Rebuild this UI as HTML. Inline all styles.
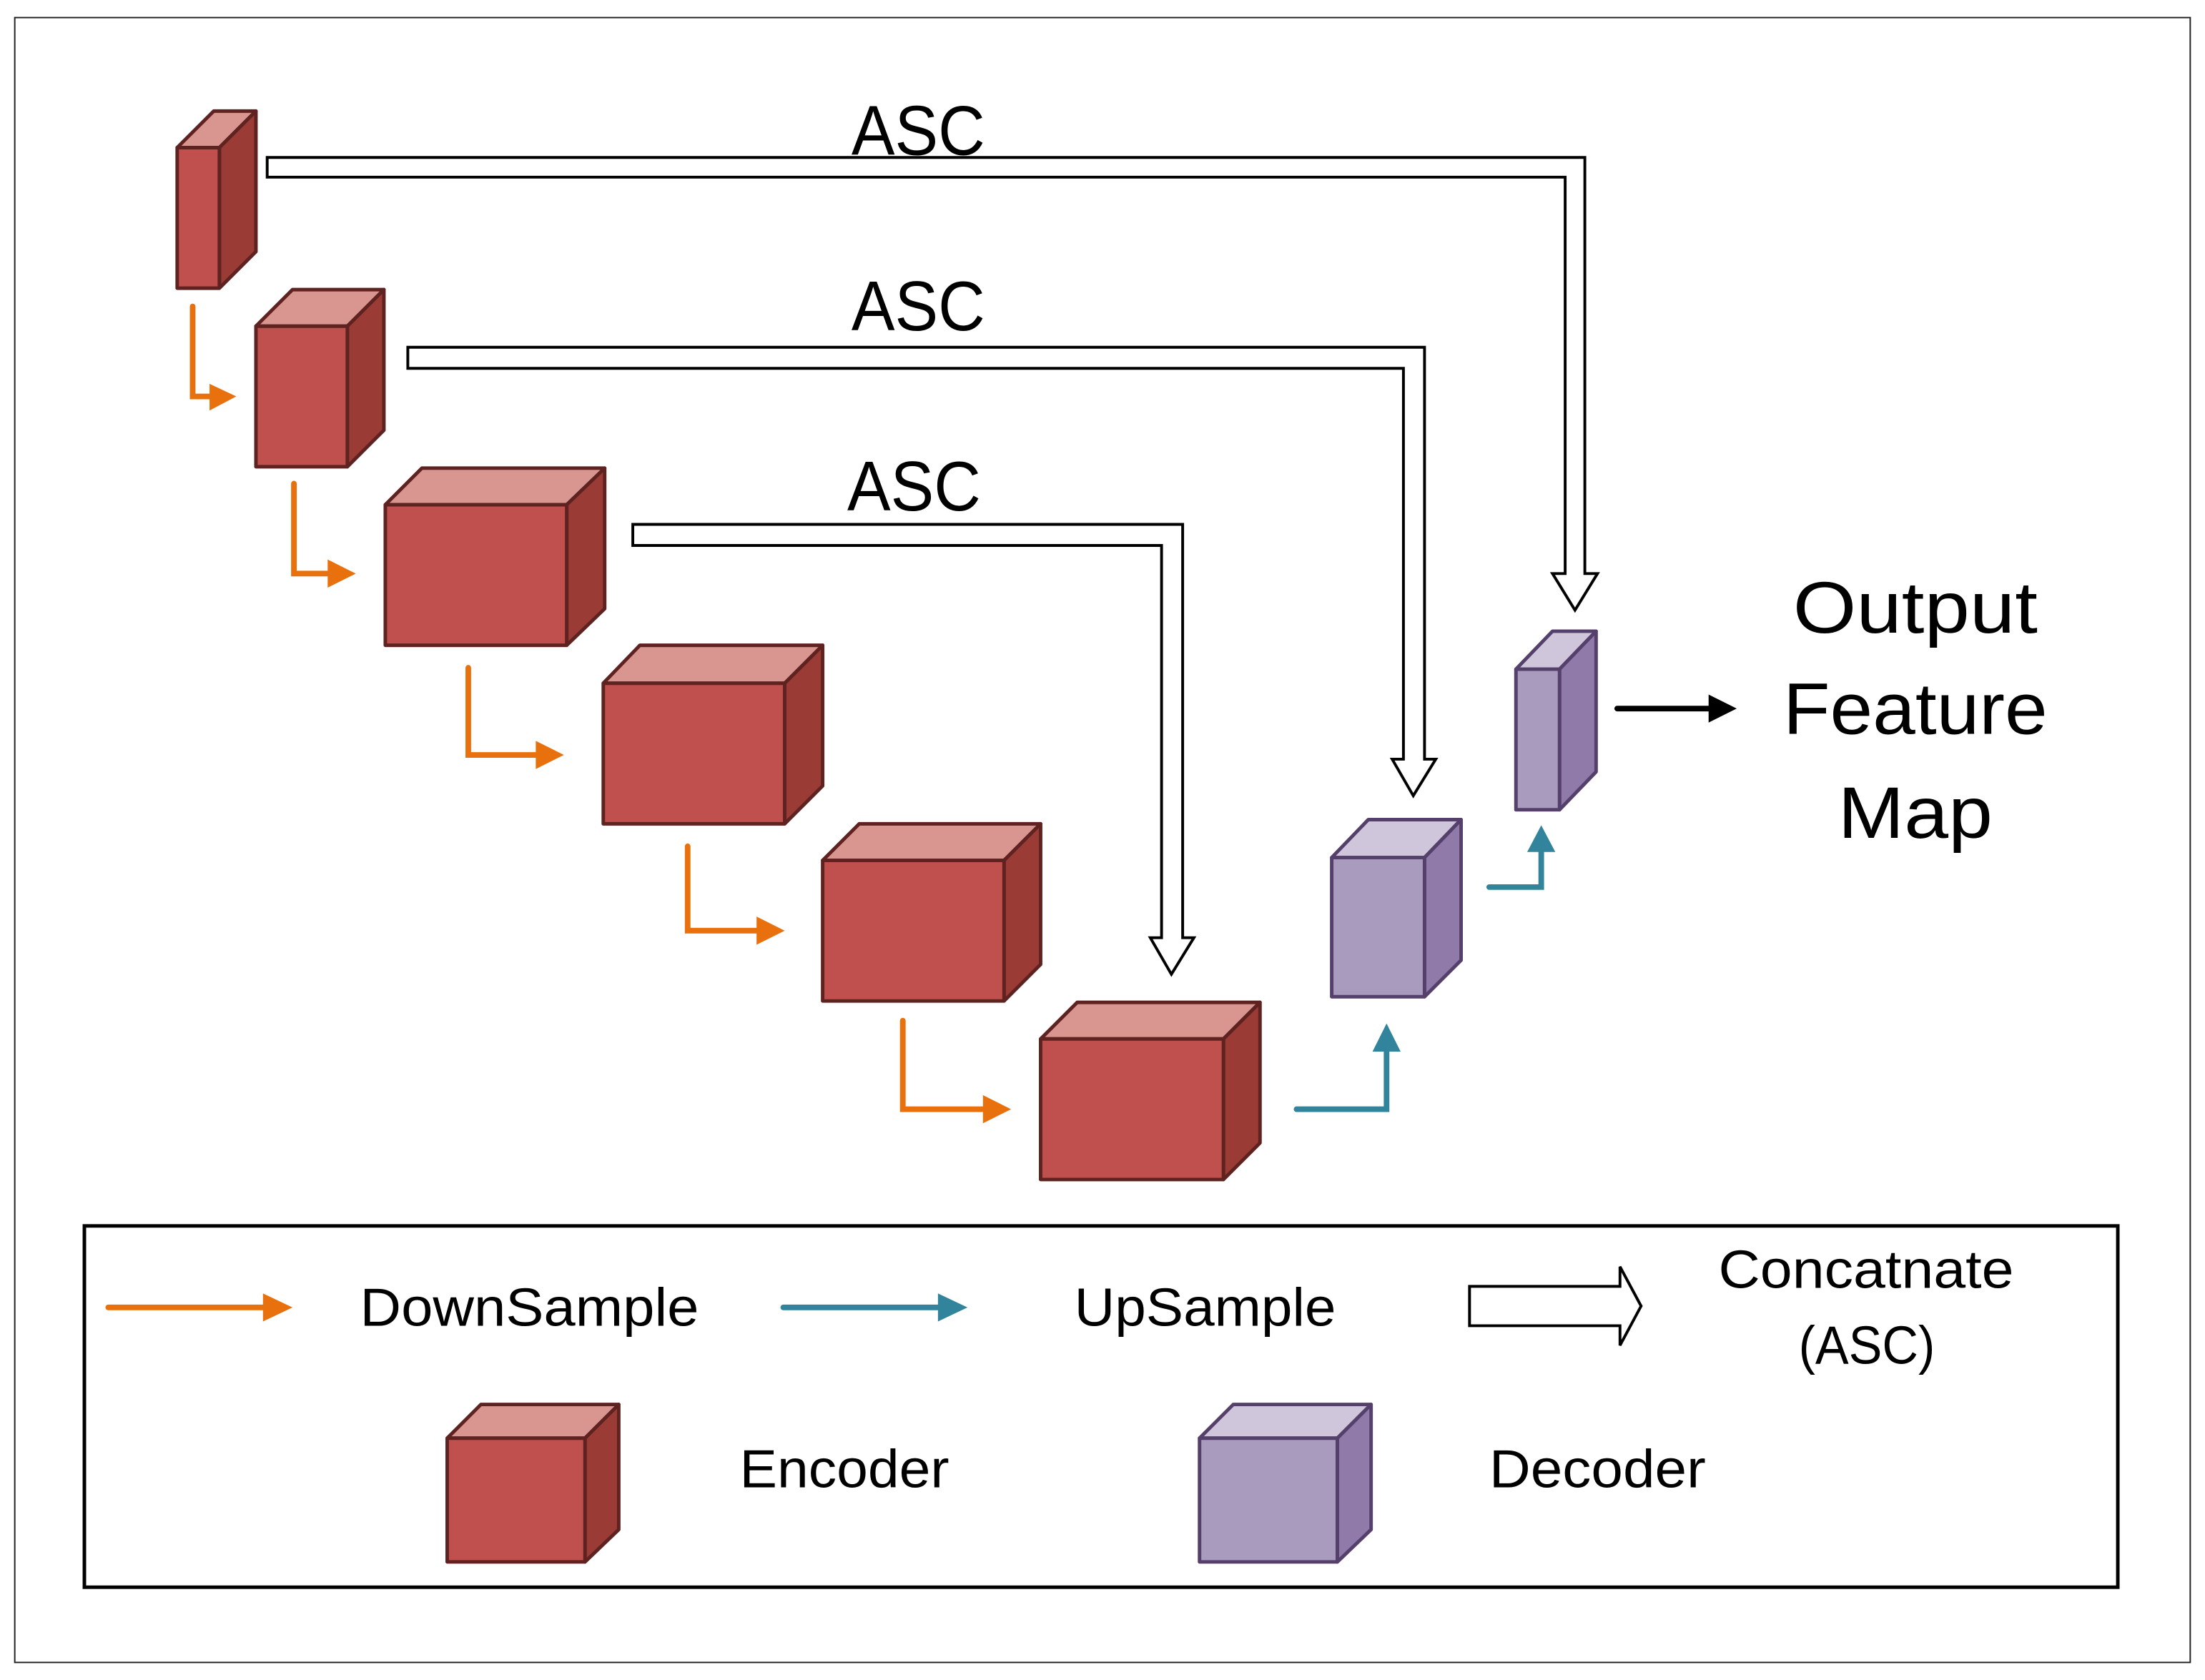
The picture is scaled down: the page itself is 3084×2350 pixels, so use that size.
<!DOCTYPE html>
<html><head><meta charset="utf-8"><style>
html,body{margin:0;padding:0;background:#fff;}
svg{display:block;}
text{font-family:"Liberation Sans",sans-serif;fill:#000;}
</style></head><body>
<svg width="3084" height="2350" viewBox="0 0 1568 1195" preserveAspectRatio="none" xmlns="http://www.w3.org/2000/svg">
<rect x="10.5" y="12.5" width="1547" height="1170" fill="none" stroke="#222" stroke-width="1"/>

<!-- ASC hollow arrows -->
<g fill="#fff" stroke="#000" stroke-width="2" stroke-linejoin="miter">
<path d="M190,112 H1127 V408 H1136 L1120,434 L1104,408 H1113 V126 H190 Z"/>
<path d="M290,247 H1013 V540 H1021 L1005,566 L990,540 H998 V262 H290 Z"/>
<path d="M450,373 H841 V667 H849 L833,693 L818,667 H826 V388 H450 Z"/>
</g>
<g font-size="50" text-anchor="middle">
<text x="653" y="110" textLength="95" lengthAdjust="spacingAndGlyphs">ASC</text>
<text x="653" y="235" textLength="95" lengthAdjust="spacingAndGlyphs">ASC</text>
<text x="650" y="363" textLength="95" lengthAdjust="spacingAndGlyphs">ASC</text>
</g>

<!-- Encoder cubes -->
<g stroke="#5E2320" stroke-width="2.5" stroke-linejoin="round">
<path d="M126,105 L152,79 H182 L156,105 Z" fill="#D9958F"/><path d="M156,105 L182,79 V179 L156,205 Z" fill="#9A3B35"/><rect x="126" y="105" width="30" height="100" fill="#C0504D"/>
<path d="M182,232 L208,206 H273 L247,232 Z" fill="#D9958F"/><path d="M247,232 L273,206 V306 L247,332 Z" fill="#9A3B35"/><rect x="182" y="232" width="65" height="100" fill="#C0504D"/>
<path d="M274,359 L300,333 H430 L403,359 Z" fill="#D9958F"/><path d="M403,359 L430,333 V433 L403,459 Z" fill="#9A3B35"/><rect x="274" y="359" width="129" height="100" fill="#C0504D"/>
<path d="M429,486 L455,459 H585 L558,486 Z" fill="#D9958F"/><path d="M558,486 L585,459 V559 L558,586 Z" fill="#9A3B35"/><rect x="429" y="486" width="129" height="100" fill="#C0504D"/>
<path d="M585,612 L611,586 H740 L714,612 Z" fill="#D9958F"/><path d="M714,612 L740,586 V686 L714,712 Z" fill="#9A3B35"/><rect x="585" y="612" width="129" height="100" fill="#C0504D"/>
<path d="M740,739 L766,713 H896 L870,739 Z" fill="#D9958F"/><path d="M870,739 L896,713 V813 L870,839 Z" fill="#9A3B35"/><rect x="740" y="739" width="130" height="100" fill="#C0504D"/>
<path d="M318,1023 L342,999 H440 L416,1023 Z" fill="#D9958F"/><path d="M416,1023 L440,999 V1088 L416,1111 Z" fill="#9A3B35"/><rect x="318" y="1023" width="98" height="88" fill="#C0504D"/>
</g>

<!-- Decoder cubes -->
<g stroke="#54406B" stroke-width="2.5" stroke-linejoin="round">
<path d="M947,610 L973,583 H1039 L1013,610 Z" fill="#CFC6DB"/><path d="M1013,610 L1039,583 V683 L1013,709 Z" fill="#8F7AAA"/><rect x="947" y="610" width="66" height="99" fill="#A99BBD"/>
<path d="M1078,476 L1104,449 H1135 L1109,476 Z" fill="#CFC6DB"/><path d="M1109,476 L1135,449 V549 L1109,576 Z" fill="#8F7AAA"/><rect x="1078" y="476" width="31" height="100" fill="#A99BBD"/>
<path d="M853,1023 L877,999 H975 L951,1023 Z" fill="#CFC6DB"/><path d="M951,1023 L975,999 V1088 L951,1111 Z" fill="#8F7AAA"/><rect x="853" y="1023" width="98" height="88" fill="#A99BBD"/>
</g>

<!-- Orange downsample arrows -->
<g stroke="#E8710E" stroke-width="4" fill="none" stroke-linecap="round" stroke-linejoin="miter">
<path d="M137,218 V282 H152"/>
<path d="M209,344 V408 H236"/>
<path d="M333,475 V537 H384"/>
<path d="M489,602 V662 H541"/>
<path d="M642,726 V789 H702"/>
<path d="M77,930 H190"/>
</g>
<g fill="#E8710E">
<path d="M149,273 L168,282 L149,292 Z"/>
<path d="M233,398 L253,408 L233,418 Z"/>
<path d="M381,527 L401,537 L381,547 Z"/>
<path d="M538,652 L558,662 L538,672 Z"/>
<path d="M699,779 L719,789 L699,799 Z"/>
<path d="M187,920 L208,930 L187,940 Z"/>
</g>

<!-- Teal upsample arrows -->
<g stroke="#31849B" stroke-width="4" fill="none" stroke-linecap="round">
<path d="M922,789 H986 V745"/>
<path d="M1059,631 H1096 V604"/>
<path d="M557,930 H670"/>
</g>
<g fill="#31849B">
<path d="M976,748 L986,728 L996,748 Z"/>
<path d="M1086,606 L1096,587 L1106,606 Z"/>
<path d="M667,920 L688,930 L667,940 Z"/>
</g>

<!-- Output arrow -->
<path d="M1150,504 H1220" stroke="#000" stroke-width="4" stroke-linecap="round"/>
<path d="M1215,494 L1235,504 L1215,514 Z" fill="#000"/>
<g font-size="52" text-anchor="middle">
<text x="1362" y="450" textLength="174" lengthAdjust="spacingAndGlyphs">Output</text>
<text x="1362" y="522" textLength="188" lengthAdjust="spacingAndGlyphs">Feature</text>
<text x="1362" y="596" textLength="110" lengthAdjust="spacingAndGlyphs">Map</text>
</g>

<!-- Legend -->
<rect x="60" y="872" width="1446" height="257" fill="none" stroke="#000" stroke-width="2.5"/>
<path d="M1045,915 H1152 V901 L1167,929 L1152,957 V943 H1045 Z" fill="#fff" stroke="#000" stroke-width="2"/>
<g font-size="38">
<text x="256" y="943" textLength="241" lengthAdjust="spacingAndGlyphs">DownSample</text>
<text x="764" y="943" textLength="186" lengthAdjust="spacingAndGlyphs">UpSample</text>
<text x="1222" y="916" textLength="210" lengthAdjust="spacingAndGlyphs">Concatnate</text>
<text x="1279" y="970" textLength="97" lengthAdjust="spacingAndGlyphs">(ASC)</text>
<text x="526" y="1058" textLength="149" lengthAdjust="spacingAndGlyphs">Encoder</text>
<text x="1059" y="1058" textLength="154" lengthAdjust="spacingAndGlyphs">Decoder</text>
</g>
</svg>
</body></html>
